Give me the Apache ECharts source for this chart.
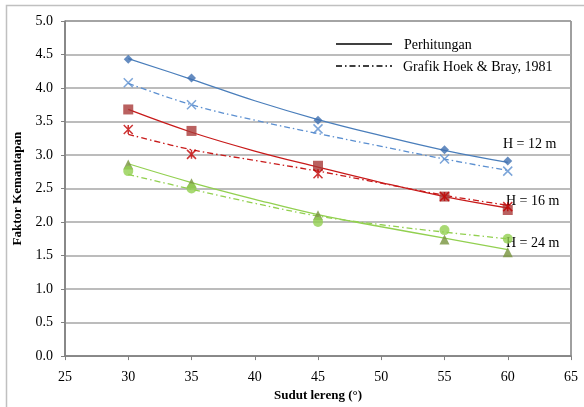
<!DOCTYPE html>
<html><head><meta charset="utf-8">
<script src="https://cdn.jsdelivr.net/npm/echarts@6/dist/echarts.min.js"></script>
<style>html,body{margin:0;padding:0;background:#fff}#c{width:584px;height:407px}</style>
</head><body><div id="c"></div>
<script>
// Data
const angles = [30, 35, 45, 55, 60];
const trendAngles = [30, 35, 40, 45, 50, 55, 60];
const xTicks = [25, 30, 35, 40, 45, 50, 55, 60, 65];
const yTicks = [0, 0.5, 1, 1.5, 2, 2.5, 3, 3.5, 4, 4.5, 5];

const h12Calc = [4.43, 4.15, 3.52, 3.08, 2.91];
const h12Hoek = [4.08, 3.75, 3.39, 2.94, 2.76];
const h16Calc = [3.68, 3.36, 2.84, 2.38, 2.18];
const h16Hoek = [3.38, 3.01, 2.72, 2.38, 2.23];
const h24Calc = [2.86, 2.58, 2.10, 1.74, 1.55];
const h24Hoek = [2.76, 2.50, 2.00, 1.88, 1.75];

const h12CalcTrend = [4.44, 4.13, 3.81, 3.53, 3.29, 3.07, 2.89];
const h12HoekTrend = [4.07, 3.75, 3.52, 3.32, 3.13, 2.94, 2.77];
const h16CalcTrend = [3.68, 3.34, 3.06, 2.82, 2.59, 2.38, 2.21];
const h16HoekTrend = [3.31, 3.08, 2.92, 2.76, 2.58, 2.40, 2.25];
const h24CalcTrend = [2.87, 2.59, 2.34, 2.11, 1.93, 1.76, 1.59];
const h24HoekTrend = [2.71, 2.49, 2.28, 2.09, 1.96, 1.85, 1.75];

const seriesLabels = ['H = 12 m', 'H = 16 m', 'H = 24 m'];
const legendLabels = ['Perhitungan', 'Grafik Hoek & Bray, 1981'];

const pair = (xs, ys) => xs.map((x, i) => [x, ys[i]]);
const FONT = '"Liberation Serif", "Times New Roman", serif';
const DASHDOT = [6, 3, 1.5, 3];

const BLUE = '#4a7ebb', BLUE2 = '#5b8fd0';
const RED = '#c81a1a', REDM = '#a93a38';
const GREEN = '#92d050', GREENM = '#77933c';

const xMark = 'path://M0,0L10,10M10,0L0,10';
const astMark = 'path://M0,0L10,10M10,0L0,10M5,0L5,10';

function trend(data, color, dashed) {
  return { type: 'line', data: pair(trendAngles, data), smooth: 0.4, symbol: 'none', silent: true,
    lineStyle: { color: color, width: 1.3, type: dashed ? DASHDOT : 'solid' }, z: 2 };
}
function pts(data, symbol, size, color, stroke) {
  return { type: 'scatter', data: pair(angles, data), symbol: symbol, symbolSize: size,
    itemStyle: stroke ? { color: 'rgba(0,0,0,0)', borderColor: color, borderWidth: 1.5 } : { color: color }, z: 3 };
}

const chart = echarts.init(document.getElementById('c'));
chart.setOption({
  animation: false,
  backgroundColor: '#fff',
  textStyle: { fontFamily: FONT },
  grid: { left: 65, right: 13, top: 21, bottom: 50, show: true, borderColor: '#404040', borderWidth: 1 },
  xAxis: {
    type: 'value', min: xTicks[0], max: xTicks[xTicks.length - 1], interval: 5,
    name: 'Sudut lereng (°)', nameLocation: 'middle', nameGap: 32,
    nameTextStyle: { fontFamily: FONT, fontWeight: 'bold', fontSize: 13, color: '#000' },
    axisLine: { show: true, lineStyle: { color: '#808080', width: 1.5 } },
    axisTick: { show: true, length: 4, lineStyle: { color: '#808080' } },
    axisLabel: { fontFamily: FONT, fontSize: 14, color: '#000', margin: 14 },
    splitLine: { show: false }
  },
  yAxis: {
    type: 'value', min: yTicks[0], max: yTicks[yTicks.length - 1], interval: 0.5,
    name: 'Faktor Kemantapan', nameLocation: 'middle', nameGap: 40,
    nameTextStyle: { fontFamily: FONT, fontWeight: 'bold', fontSize: 13, color: '#000' },
    axisLine: { show: true, lineStyle: { color: '#808080', width: 1.5 } },
    axisTick: { show: true, length: 4, lineStyle: { color: '#808080' } },
    axisLabel: { fontFamily: FONT, fontSize: 14, color: '#000', margin: 12, formatter: v => v.toFixed(1) },
    splitLine: { show: true, lineStyle: { color: '#a6a6a6', width: 1.5 } }
  },
  series: [
    trend(h12CalcTrend, BLUE, false),
    trend(h12HoekTrend, BLUE2, true),
    trend(h16CalcTrend, RED, false),
    trend(h16HoekTrend, RED, true),
    trend(h24CalcTrend, GREEN, false),
    trend(h24HoekTrend, GREEN, true),
    pts(h12Calc, 'diamond', 9, '#3f6fb0'),
    pts(h12Hoek, xMark, 9, BLUE2, true),
    pts(h16Calc, 'rect', 10, REDM),
    pts(h16Hoek, astMark, 9, '#c00000', true),
    pts(h24Calc, 'triangle', 10, GREENM),
    pts(h24Hoek, 'circle', 10, GREEN)
  ],
  graphic: [
    { type: 'rect', shape: { x: 6.5, y: 5.5, width: 620, height: 440 }, style: { fill: 'none', stroke: '#c0c0c0', lineWidth: 1.5 }, silent: true, z: -10 },
    { type: 'line', shape: { x1: 336, y1: 44, x2: 392, y2: 44 }, style: { stroke: '#000', lineWidth: 1.3 } },
    { type: 'line', shape: { x1: 336, y1: 66, x2: 392, y2: 66 }, style: { stroke: '#000', lineWidth: 1.3, lineDash: DASHDOT } },
    { type: 'text', x: 404, y: 45, style: { text: legendLabels[0], font: '14px ' + FONT, fill: '#000', verticalAlign: 'middle' } },
    { type: 'text', x: 403, y: 67, style: { text: legendLabels[1], font: '14px ' + FONT, fill: '#000', verticalAlign: 'middle' } },
    { type: 'text', x: 503, y: 144, style: { text: seriesLabels[0], font: '14px ' + FONT, fill: '#000', verticalAlign: 'middle' } },
    { type: 'text', x: 506, y: 201, style: { text: seriesLabels[1], font: '14px ' + FONT, fill: '#000', verticalAlign: 'middle' } },
    { type: 'text', x: 506, y: 243, style: { text: seriesLabels[2], font: '14px ' + FONT, fill: '#000', verticalAlign: 'middle' } }
  ]
});
</script></body></html>
